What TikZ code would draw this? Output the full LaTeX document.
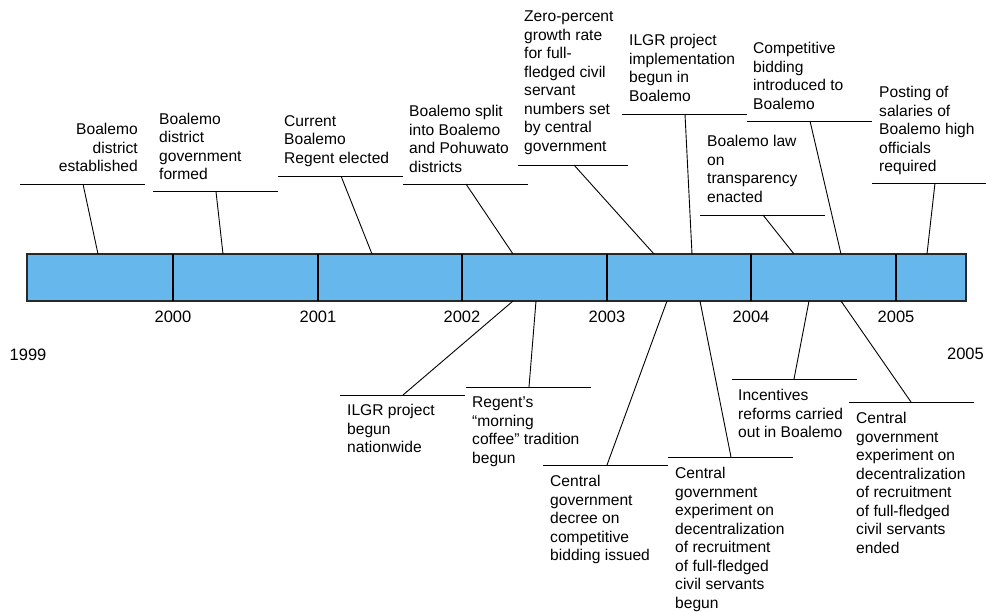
\documentclass[tikz,border=0pt]{standalone}
\usepackage{fontspec}
\setmainfont{Liberation Sans}
\usepackage{tikz}
\usetikzlibrary{positioning}
\definecolor{barblue}{RGB}{102,184,236}
\definecolor{barline}{RGB}{40,40,40}
\tikzset{>=latex}
\tikzset{evtext/.style={inner sep=0pt, align=left, font=\fontsize{15.6}{18.5}\selectfont}}
\tikzset{yearlbl/.style={inner sep=0pt, font=\fontsize{16.5}{18}\selectfont}}
\tikzset{leader/.style={line width=0.9pt}, link/.style={line width=0.9pt}}
\tikzset{timebar/.style={fill=barblue, draw=barline, line width=1.2pt}}

\begin{document}
\begin{tikzpicture}[x=1pt,y=-1pt]
          \useasboundingbox (0,0) rectangle (986,611);
          % the bar with the year ticks
          \draw[timebar] (27,254) rectangle (966,301);
          \foreach \x/\yr in {173/2000,318/2001,462/2002,607/2003,751/2004,896/2005} {
            \draw[line width=1.2pt] (\x,254) -- (\x,301);
            \node[yearlbl, anchor=north] (y\yr) at (\x,311) {\yr};
          }
          \node[yearlbl, anchor=north west] (ystart) at (9.5,349) {1999};
          \node[yearlbl, anchor=north east] (yend) at (984,348) {2005};
          % events above the bar
          \node[evtext, anchor=north east, align=right] (e1) at (138,123.3) {Boalemo\\district\\established};
          \coordinate (e1l) at (83,184); \coordinate (e1b) at (98,254);
          \draw[leader] (e1l) ++(-63,0) -- ++(125,0);
          \draw[link] (e1l) -- (e1b);
          \node[evtext, anchor=north west] (e2) at (159,112.5) {Boalemo\\district\\government\\formed};
          \coordinate (e2l) at (216,191.7); \coordinate (e2b) at (223,254);
          \draw[leader] (e2l) ++(-63,0) -- ++(125,0);
          \draw[link] (e2l) -- (e2b);
          \node[evtext, anchor=north west] (e3) at (284,115) {Current\\Boalemo\\Regent elected};
          \coordinate (e3l) at (341,176); \coordinate (e3b) at (372,254);
          \draw[leader] (e3l) ++(-63,0) -- ++(125,0);
          \draw[link] (e3l) -- (e3b);
          \node[evtext, anchor=north west] (e4) at (409,105) {Boalemo split\\into Boalemo\\and Pohuwato\\districts};
          \coordinate (e4l) at (466,184); \coordinate (e4b) at (513,254);
          \draw[leader] (e4l) ++(-63,0) -- ++(125,0);
          \draw[link] (e4l) -- (e4b);
          \node[evtext, anchor=north west] (e5) at (524,11) {Zero-percent\\growth rate\\for full-\\fledged civil\\servant\\numbers set\\by central\\government};
          \coordinate (e5l) at (574,165); \coordinate (e5b) at (654,254);
          \draw[leader] (e5l) ++(-56,0) -- ++(110,0);
          \draw[link] (e5l) -- (e5b);
          \node[evtext, anchor=north west] (e6) at (629,34) {ILGR project\\implementation\\begun in\\Boalemo};
          \coordinate (e6l) at (685,114); \coordinate (e6b) at (692,254);
          \draw[leader] (e6l) ++(-63,0) -- ++(125,0);
          \draw[link] (e6l) -- (e6b);
          \node[evtext, anchor=north west] (e7) at (753,42) {Competitive\\bidding\\introduced to\\Boalemo};
          \coordinate (e7l) at (810,121); \coordinate (e7b) at (841,254);
          \draw[leader] (e7l) ++(-63,0) -- ++(125,0);
          \draw[link] (e7l) -- (e7b);
          \node[evtext, anchor=north west] (e8) at (707,135) {Boalemo law\\on\\transparency\\enacted};
          \coordinate (e8l) at (763,215); \coordinate (e8b) at (794,254);
          \draw[leader] (e8l) ++(-63,0) -- ++(125,0);
          \draw[link] (e8l) -- (e8b);
          \node[evtext, anchor=north west] (e9) at (879,86) {Posting of\\salaries of\\Boalemo high\\officials\\required};
          \coordinate (e9l) at (935,183); \coordinate (e9b) at (927,254);
          \draw[leader] (e9l) ++(-63,0) -- ++(125,0);
          \draw[link] (e9l) -- (e9b);
          % events below the bar
          \node[evtext, anchor=north west] (e10) at (347,404) {ILGR project\\begun\\nationwide};
          \coordinate (e10l) at (403,395); \coordinate (e10b) at (513,301);
          \draw[leader] (e10l) ++(-63,0) -- ++(125,0);
          \draw[link] (e10b) -- (e10l);
          \node[evtext, anchor=north west] (e11) at (472,397) {Regent’s\\“morning\\coffee” tradition\\begun};
          \coordinate (e11l) at (529,387); \coordinate (e11b) at (536,301);
          \draw[leader] (e11l) ++(-63,0) -- ++(125,0);
          \draw[link] (e11b) -- (e11l);
          \node[evtext, anchor=north west] (e12) at (550,475) {Central\\government\\decree on\\competitive\\bidding issued};
          \coordinate (e12l) at (607,465); \coordinate (e12b) at (667,301);
          \draw[leader] (e12l) ++(-64,0) -- ++(125,0);
          \draw[link] (e12b) -- (e12l);
          \node[evtext, anchor=north west] (e13) at (675,467) {Central\\government\\experiment on\\decentralization\\of recruitment\\of full-fledged\\civil servants\\begun};
          \coordinate (e13l) at (731,457); \coordinate (e13b) at (700,301);
          \draw[leader] (e13l) ++(-63,0) -- ++(125,0);
          \draw[link] (e13b) -- (e13l);
          \node[evtext, anchor=north west] (e14) at (738,389) {Incentives\\reforms carried\\out in Boalemo};
          \coordinate (e14l) at (794,379); \coordinate (e14b) at (809,301);
          \draw[leader] (e14l) ++(-62,0) -- ++(125,0);
          \draw[link] (e14b) -- (e14l);
          \node[evtext, anchor=north west] (e15) at (856,412) {Central\\government\\experiment on\\decentralization\\of recruitment\\of full-fledged\\civil servants\\ended};
          \coordinate (e15l) at (911,402); \coordinate (e15b) at (841,301);
          \draw[leader] (e15l) ++(-62,0) -- ++(125,0);
          \draw[link] (e15b) -- (e15l);
        \end{tikzpicture}
\end{document}
